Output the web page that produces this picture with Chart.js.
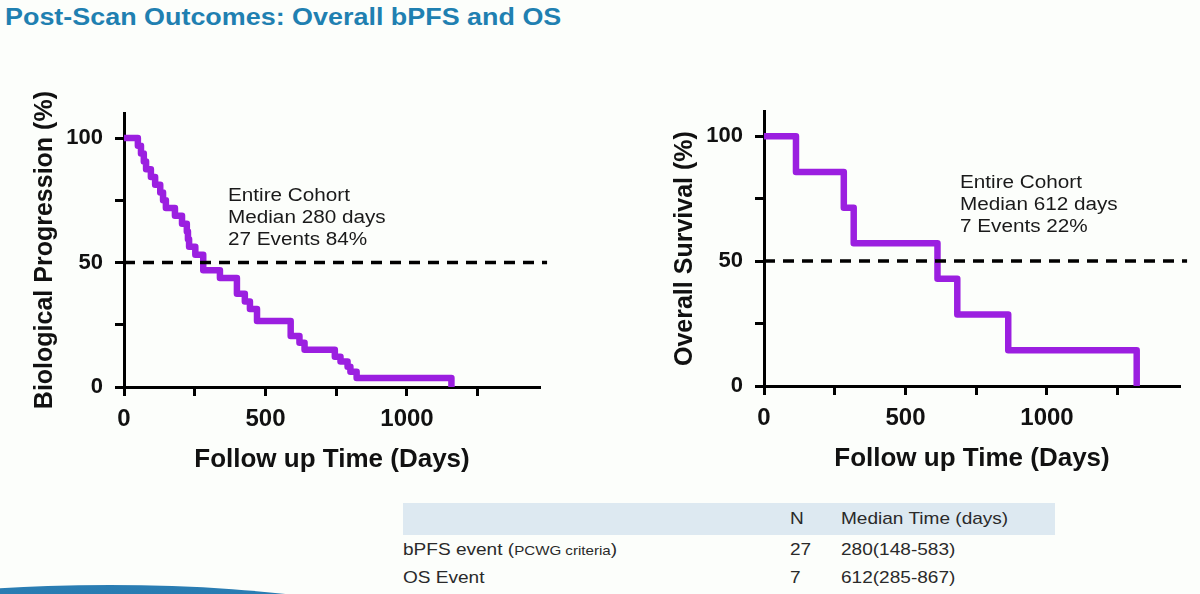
<!DOCTYPE html>
<html>
<head>
<meta charset="utf-8">
<script src="https://cdn.jsdelivr.net/npm/chart.js@4.4.0/dist/chart.umd.min.js"></script>
<style>
  html, body { margin: 0; padding: 0; }
  body {
    width: 1200px; height: 594px; overflow: hidden; position: relative;
    background: #fcfefb; font-family: Arial, "Liberation Sans", sans-serif;
  }
  .wide { transform-origin: 0 0; }
  #title {
    position: absolute; left: 5px; top: 4px;
    font-size: 23px; font-weight: bold; color: #1f80b1; white-space: nowrap;
    transform: scaleX(1.17);
  }
  canvas { position: absolute; }
  #leftChart { left: 20px; top: 88px; }
  #rightChart { left: 660px; top: 86px; }
  .note {
    position: absolute; font-size: 18px; line-height: 22px; color: #1a1a1a; white-space: nowrap;
    transform: scaleX(1.15);
  }
  #tablebg {
    position: absolute; left: 403px; top: 503px; width: 652px; height: 32px; background: #dde9f1;
  }
  .cell {
    position: absolute; font-size: 17px; color: #2a2a2a; white-space: nowrap;
    transform: scaleX(1.12); line-height: 20px;
  }
  .small { font-size: 13.5px; }
  #swoosh {
    position: absolute; left: -210px; top: 585px; width: 640px; height: 110px;
    border-radius: 50%; background: linear-gradient(#2a7db3, #1f6fa5);
  }
</style>
</head>
<body>
<div id="title" class="wide">Post-Scan Outcomes: Overall bPFS and OS</div>

<canvas id="leftChart" width="540" height="392"></canvas>
<canvas id="rightChart" width="540" height="393"></canvas>

<div class="note wide" style="left:228px; top:184px;">Entire Cohort<br>Median 280 days<br>27 Events 84%</div>
<div class="note wide" style="left:960px; top:171px;">Entire Cohort<br>Median 612 days<br>7 Events 22%</div>

<div id="tablebg"></div>
<div class="cell wide" style="left:790px; top:509px;">N</div>
<div class="cell wide" style="left:841px; top:509px;">Median Time (days)</div>
<div class="cell wide" style="left:403px; top:540px;">bPFS event (<span class="small">PCWG criteria</span>)</div>
<div class="cell wide" style="left:790px; top:540px;">27</div>
<div class="cell wide" style="left:841px; top:540px;">280(148-583)</div>
<div class="cell wide" style="left:403px; top:568px;">OS Event</div>
<div class="cell wide" style="left:790px; top:568px;">7</div>
<div class="cell wide" style="left:841px; top:568px;">612(285-867)</div>

<div id="swoosh"></div>

<script>
// bPFS Kaplan-Meier steps (day of drop, % after drop)
const bpfsDays = [0, 49, 60, 70, 78, 95, 110, 128, 138, 148, 180, 205, 222, 226, 230, 252, 280, 339, 399, 427, 445, 470, 589, 620, 638, 745, 765, 790, 800, 822, 1157];
const bpfsPct  = [100, 96.9, 93.8, 90.6, 87.5, 84.4, 81.3, 78.1, 75, 71.9, 68.8, 65.6, 62.5, 59.4, 56.3, 53.1, 46.9, 43.8, 37.5, 34.4, 31.3, 26.5, 20.5, 17.8, 15, 12.2, 10.2, 8.1, 6.1, 3.6, 0];

// OS Kaplan-Meier steps
const osDays = [0, 113, 282, 317, 613, 683, 863, 1317];
const osPct  = [100, 85.7, 71.4, 57.1, 42.9, 28.6, 14.3, 0];

// median reference line (runs a little past the axis end)
const medianX = [0, 1495];
const medianY = [50, 50];

// tick marks and which of them carry a label
const xTickValues = [0, 250, 500, 750, 1000, 1250];
const yTickValues = [0, 25, 50, 75, 100];
const xTicksShown = [0, 500, 1000];
const yTicksShown = [0, 50, 100];

const PURPLE = '#9b1fe0';
const FONT = 'Arial, "Liberation Sans", sans-serif';

function toPoints(xs, ys) {
  return xs.map((x, i) => ({ x: x, y: ys[i] }));
}

function makeKM(id, days, pct, yTitle) {
  const ctx = document.getElementById(id).getContext('2d');
  return new Chart(ctx, {
    type: 'line',
    data: {
      datasets: [{
        // dashed 50% line drawn on top
        data: toPoints(medianX, medianY),
        borderColor: '#000',
        borderWidth: 3.5,
        borderDash: [11, 8],
        pointRadius: 0,
        clip: 12,
      }, {
        data: toPoints(days, pct),
        borderColor: PURPLE,
        borderWidth: 6.5,
        stepped: 'before',
        borderJoinStyle: 'round',
        pointRadius: 0,
        clip: 12,
      }],
    },
    options: {
      responsive: false,
      animation: false,
      devicePixelRatio: 1,
      layout: { padding: { top: 1, right: 20, left: 0, bottom: 0 } },
      plugins: { legend: { display: false }, tooltip: { enabled: false } },
      scales: {
        x: {
          type: 'linear',
          min: 0, max: 1470,
          afterFit: (s) => { s.height = 93; },
          afterBuildTicks: (s) => { s.ticks = xTickValues.map(v => ({ value: v })); },
          border: { display: true, color: '#000', width: 3 },
          grid: { drawOnChartArea: false, drawTicks: true, tickLength: 9, tickColor: '#000', tickWidth: 3 },
          ticks: {
            padding: 9, maxRotation: 0, autoSkip: false,
            color: '#111', font: { family: FONT, size: 24, weight: 'bold' },
            callback: (v) => xTicksShown.includes(v) ? v : '',
          },
          title: {
            display: true, text: 'Follow up Time (Days)', color: '#111',
            font: { family: FONT, size: 26, weight: 'bold' }, padding: { top: 0, bottom: 5 },
          },
        },
        y: {
          type: 'linear',
          min: 0, max: 110,
          afterFit: (s) => { s.width = 104; },
          afterBuildTicks: (s) => { s.ticks = yTickValues.map(v => ({ value: v })); },
          border: { display: true, color: '#000', width: 3 },
          grid: { drawOnChartArea: false, drawTicks: true, tickLength: 9, tickColor: '#000', tickWidth: 3 },
          ticks: {
            padding: 12, autoSkip: false,
            color: '#111', font: { family: FONT, size: 22, weight: 'bold' },
            callback: (v) => yTicksShown.includes(v) ? v : '',
          },
          title: {
            display: true, text: yTitle, color: '#111',
            font: { family: FONT, size: 25, weight: 'bold' }, padding: { top: 10, bottom: 0 },
          },
        },
      },
    },
  });
}

makeKM('leftChart', bpfsDays, bpfsPct, 'Biological Progression (%)');
makeKM('rightChart', osDays, osPct, 'Overall Survival (%)');
</script>
</body>
</html>
